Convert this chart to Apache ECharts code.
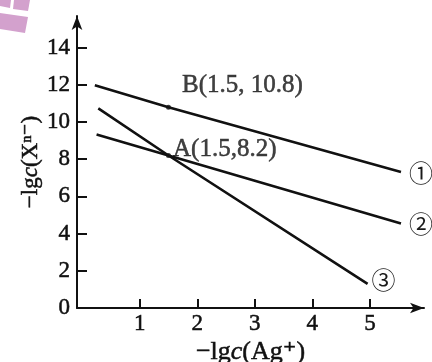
<!DOCTYPE html>
<html><head><meta charset="utf-8">
<script src="https://cdn.jsdelivr.net/npm/echarts@6/dist/echarts.min.js"></script>
<style>html,body{margin:0;padding:0;background:#fff}#c{width:432px;height:362px}</style>
</head><body><div id="c"></div>
<script>
// ---- data ----
const xTicks = [1, 2, 3, 4, 5];
const yTicks = [0, 2, 4, 6, 8, 10, 12, 14];
const line1 = [[0.22, 11.98], [1.5, 10.8], [5.54, 7.31]];
const line2 = [[0.25, 9.33], [1.5, 8.2], [5.54, 4.54]];
const line3 = [[0.28, 10.73], [1.5, 8.2], [4.96, 1.3]];
const lineNames = ['①', '②', '③'];
const pointValues = [[1.5, 10.8], [1.5, 8.2]];
const pointLabels = ['B(1.5, 10.8)', 'A(1.5,8.2)'];
const xName = '−lg{i|c}(Ag⁺)';
const yName = '−lg{i|c}(Xⁿ⁻)';

const SERIF = "'Liberation Serif', 'Times New Roman', 'DejaVu Serif', 'Noto Sans CJK SC', serif";
const INK = '#111';
const FS = 23;
const BOLDEN = {textBorderColor: INK, textBorderWidth: 0.5};

const chart = echarts.init(document.getElementById('c'), null, {renderer: 'canvas'});

const lineSeries = [line1, line2, line3].map((d, i) => ({
  type: 'line', data: d, symbol: 'none', silent: true,
  lineStyle: {color: INK, width: 2.6},
  endLabel: {
    show: true, formatter: lineNames[i], color: '#1a1a1a', fontSize: 24,
    fontFamily: "'Noto Sans CJK SC', 'DejaVu Sans', sans-serif",
    distance: [8, 8, 4][i], offset: [0, [1, 0, -4][i]]
  }
}));

function nameStyle(fs) {
  return Object.assign({color: INK, fontSize: fs, fontFamily: SERIF,
    rich: {i: Object.assign({fontStyle: 'italic', fontSize: fs, fontFamily: SERIF, color: INK}, BOLDEN)}}, BOLDEN);
}

chart.setOption({
  animation: false,
  backgroundColor: '#fff',
  grid: {left: 77, right: 8, top: 16, bottom: 54, containLabel: false, outerBoundsMode: 'none'},
  xAxis: {
    type: 'value', min: -0.09, max: 5.94,
    name: xName, nameLocation: 'middle', nameGap: 31, nameMoveOverlap: false,
    nameTextStyle: nameStyle(26),
    axisLine: {show: true, onZero: false, symbol: ['none', 'arrow'], symbolSize: [8, 14],
      lineStyle: {color: INK, width: 2}},
    axisTick: {show: true, inside: true, length: 9, customValues: xTicks, lineStyle: {color: INK, width: 2}},
    axisLabel: Object.assign({show: true, customValues: xTicks, margin: 4, color: INK, fontSize: FS, fontFamily: SERIF}, BOLDEN),
    splitLine: {show: false}
  },
  yAxis: {
    type: 'value', min: 0, max: 15.7,
    name: yName, nameLocation: 'middle', nameGap: 35, nameRotate: 90, nameMoveOverlap: false,
    nameTextStyle: nameStyle(23),
    axisLine: {show: true, onZero: false, symbol: ['none', 'arrow'], symbolSize: [8, 14],
      lineStyle: {color: INK, width: 2}},
    axisTick: {show: true, inside: true, length: 10, customValues: yTicks, lineStyle: {color: INK, width: 2}},
    axisLabel: Object.assign({show: true, customValues: yTicks, margin: 7, color: INK, fontSize: FS, fontFamily: SERIF}, BOLDEN),
    splitLine: {show: false}
  },
  graphic: [
    {type: 'polygon', shape: {points: [[0, 0], [11, 0], [10, 8], [0, 6]]}, style: {fill: '#d3a1cd'}},
    {type: 'polygon', shape: {points: [[14, 0], [30, 0], [28, 11], [13, 9]]}, style: {fill: '#d3a1cd'}},
    {type: 'polygon', shape: {points: [[0, 13], [28, 17], [25, 33], [0, 29]]}, style: {fill: '#d3a1cd'}}
  ],
  series: lineSeries.concat([{
    type: 'scatter', symbol: 'circle', symbolSize: 5, silent: true,
    itemStyle: {color: INK},
    data: pointValues.map((v, i) => ({
      value: v,
      label: Object.assign({
        show: true, position: 'right', distance: 0,
        offset: i === 0 ? [11, -22] : [2, -6],
        formatter: pointLabels[i], color: INK, fontSize: 25, fontFamily: SERIF
      }, BOLDEN)
    }))
  }])
});
</script></body></html>
